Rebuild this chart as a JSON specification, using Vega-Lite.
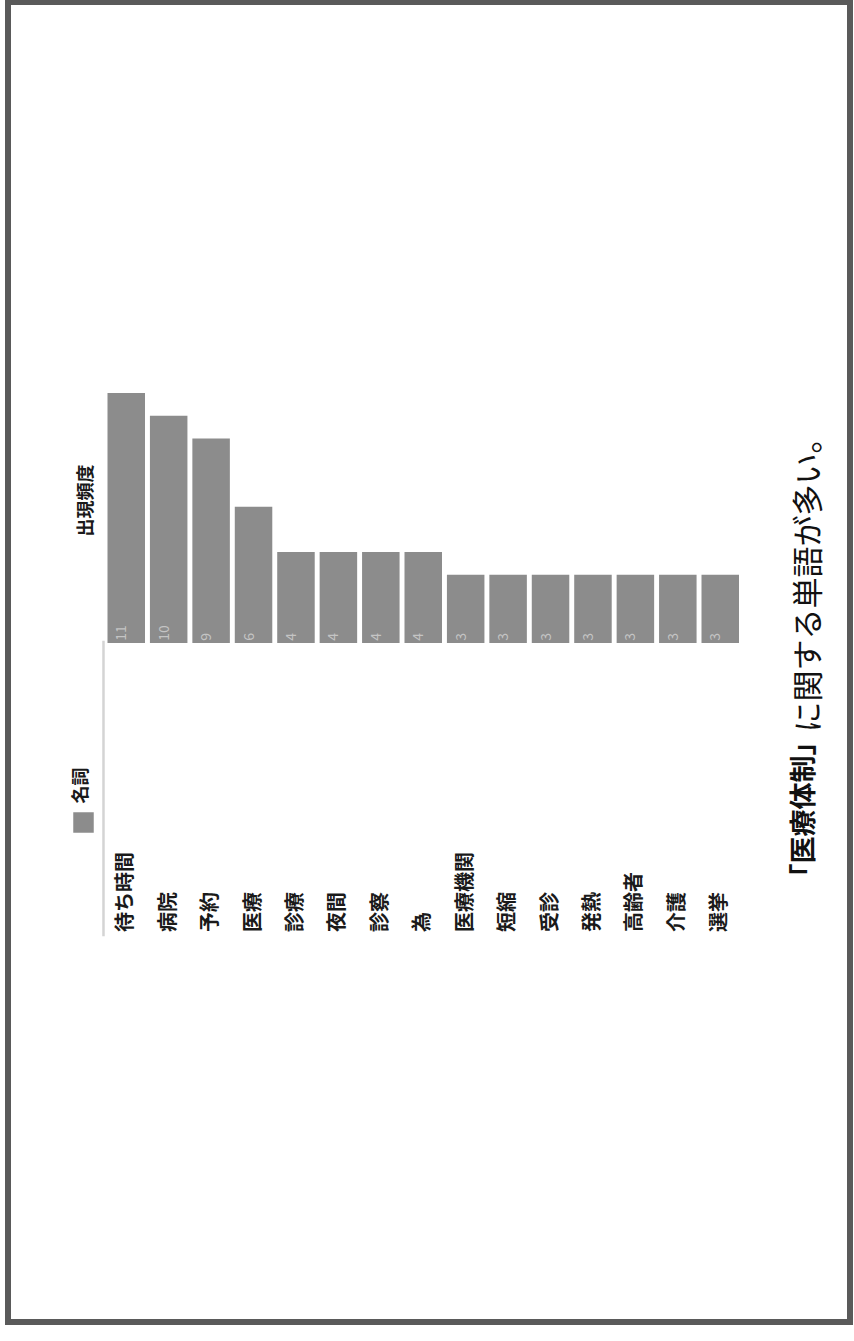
{
  "$schema": "https://vega.github.io/schema/vega-lite/v6.json",
  "autosize": "none",
  "width": 842,
  "height": 1320,
  "padding": {"left": 8, "top": 2, "right": 4, "bottom": 19},
  "background": "white",
  "config": {
    "view": {"stroke": "#5a5a5a", "strokeWidth": 6},
    "font": "Noto Sans CJK JP"
  },
  "data": {
    "values": [
      {"word": "待ち時間", "count": 11, "pos": "名詞"},
      {"word": "病院", "count": 10, "pos": "名詞"},
      {"word": "予約", "count": 9, "pos": "名詞"},
      {"word": "医療", "count": 6, "pos": "名詞"},
      {"word": "診療", "count": 4, "pos": "名詞"},
      {"word": "夜間", "count": 4, "pos": "名詞"},
      {"word": "診察", "count": 4, "pos": "名詞"},
      {"word": "為", "count": 4, "pos": "名詞"},
      {"word": "医療機関", "count": 3, "pos": "名詞"},
      {"word": "短縮", "count": 3, "pos": "名詞"},
      {"word": "受診", "count": 3, "pos": "名詞"},
      {"word": "発熱", "count": 3, "pos": "名詞"},
      {"word": "高齢者", "count": 3, "pos": "名詞"},
      {"word": "介護", "count": 3, "pos": "名詞"},
      {"word": "選挙", "count": 3, "pos": "名詞"}
    ]
  },
  "resolve": {"axis": {"x": "independent", "y": "independent"}},
  "layer": [
    {
      "mark": {"type": "bar"},
      "encoding": {
        "x": {
          "field": "word", "type": "nominal",
          "scale": {
            "domain": ["待ち時間","病院","予約","医療","診療","夜間","診察","為","医療機関","短縮","受診","発熱","高齢者","介護","選挙"],
            "range": [99.5, 731.0],
            "paddingInner": 0.116, "paddingOuter": 0
          },
          "axis": {
            "labels": false, "ticks": false, "domain": false, "grid": false,
            "title": "名詞", "titleX": 73, "titleY": -537, "titleAngle": 270,
            "titleAlign": "center", "titleBaseline": "middle",
            "titleFontSize": 18, "titleFontWeight": "bold", "titleColor": "#1a1a1a",
            "titleFont": "Noto Sans CJK JP"
          }
        },
        "y": {
          "field": "count", "type": "quantitative",
          "scale": {"domain": [-29.876, 28.204], "nice": false, "zero": false},
          "axis": null
        },
        "y2": {"datum": 0},
        "color": {
          "field": "pos", "type": "nominal",
          "scale": {"range": ["#8c8c8c"]},
          "legend": {
            "orient": "none", "legendX": 65, "legendY": 810, "padding": 0,
            "title": null, "symbolType": "square", "symbolSize": 420,
            "symbolStrokeWidth": 0, "labelExpr": "''"
          }
        }
      }
    },
    {
      "mark": {"type": "text", "angle": 270, "align": "left", "baseline": "alphabetic", "fontSize": 14, "color": "#c4c4c4"},
      "encoding": {
        "x": {"field": "word", "type": "nominal", "axis": null},
        "y": {
          "datum": 0.1, "type": "quantitative",
          "axis": {
            "orient": "right",
            "labels": false, "ticks": false, "domain": false, "grid": false,
            "title": "「医療体制」", "titleX": -46, "titleY": 888, "titleAngle": 270,
            "titleAlign": "left", "titleBaseline": "middle",
            "titleFontSize": 27, "titleFontWeight": "bold", "titleColor": "#111",
            "titleFont": "Noto Sans CJK JP"
          }
        },
        "text": {"field": "count", "type": "quantitative"}
      }
    },
    {
      "mark": {"type": "text", "angle": 270, "align": "left", "baseline": "middle", "fontSize": 20, "fontWeight": "bold", "color": "#1a1a1a"},
      "encoding": {
        "x": {
          "field": "word", "type": "nominal",
          "axis": {
            "orient": "top",
            "labels": false, "ticks": false, "domain": false, "grid": false,
            "title": "に関する単語が多い。", "titleX": 801, "titleY": 730, "titleAngle": 270,
            "titleAlign": "left", "titleBaseline": "middle",
            "titleFontSize": 31, "titleFontWeight": "normal", "titleColor": "#111",
            "titleFont": "Noto Sans CJK JP"
          }
        },
        "y": {
          "datum": -12.716, "type": "quantitative",
          "axis": {
            "orient": "left",
            "labels": false, "ticks": false, "domain": false, "grid": false,
            "title": "出現頻度", "titleX": 78, "titleY": 498, "titleAngle": 270,
            "titleAlign": "center", "titleBaseline": "middle",
            "titleFontSize": 18, "titleFontWeight": "bold", "titleColor": "#1a1a1a",
            "titleFont": "Noto Sans CJK JP"
          }
        },
        "text": {"field": "word", "type": "nominal"}
      }
    },
    {
      "data": {"values": [{"word": "待ち時間"}]},
      "mark": {"type": "rule", "color": "#d4d4d4", "strokeWidth": 2.5},
      "encoding": {
        "x": {"datum": "待ち時間", "type": "nominal", "bandPosition": -0.107, "axis": null},
        "y": {"datum": 0.1, "type": "quantitative", "axis": null},
        "y2": {"datum": -12.9}
      }
    }
  ]
}
